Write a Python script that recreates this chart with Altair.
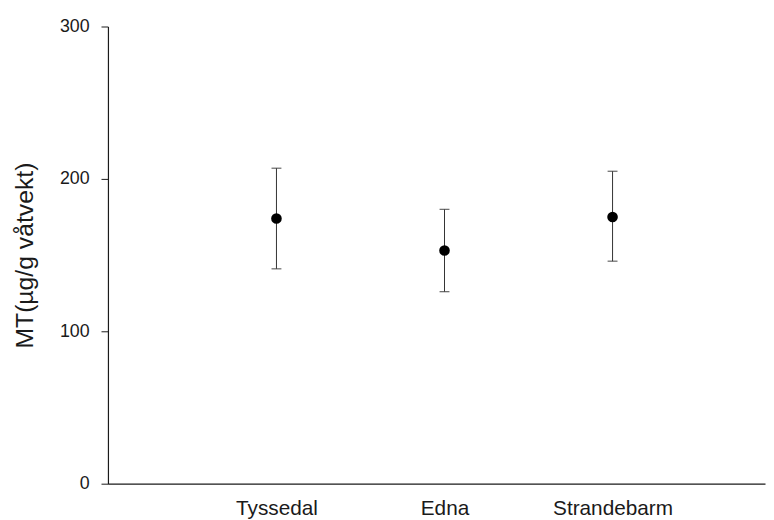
import altair as alt
import pandas as pd

sites = ["Tyssedal", "Edna", "Strandebarm"]
means = [174, 153, 175]
lower = [141, 126, 146]
upper = [207, 180, 205]

df = pd.DataFrame({"site": sites, "mean": means, "lo": lower, "hi": upper})

FONT = "Liberation Sans"
INK = "#1a1a1a"

xenc = alt.X(
    "site:N",
    sort=sites,
    scale=alt.Scale(type="point", padding=0.955, align=0.525),
    axis=alt.Axis(
        title=None,
        labelAngle=0,
        ticks=False,
        labelFont=FONT,
        labelFontSize=21,
        labelColor=INK,
        labelPadding=14,
        domainColor=INK,
        domainWidth=1.2,
        grid=False,
    ),
)

yscale = alt.Scale(domain=[0, 300], nice=False, zero=True)
yaxis = alt.Axis(
    title="MT(µg/g våtvekt)",
    values=[0, 100, 200, 300],
    tickSize=7,
    tickColor=INK,
    labelFont=FONT,
    labelFontSize=18,
    labelColor=INK,
    labelPadding=12,
    titleFont=FONT,
    titleFontSize=25,
    titleFontWeight="normal",
    titleColor=INK,
    titlePadding=22,
    domainColor=INK,
    domainWidth=1.2,
    grid=False,
)

base = alt.Chart(df)

rules = base.mark_rule(color="#333333", strokeWidth=1).encode(
    x=xenc,
    y=alt.Y("lo:Q", scale=yscale, axis=yaxis),
    y2="hi:Q",
)

caps_hi = base.mark_tick(color="#333333", size=10, thickness=1.3).encode(
    x=xenc, y=alt.Y("hi:Q", scale=yscale)
)
caps_lo = base.mark_tick(color="#333333", size=10, thickness=1.3).encode(
    x=xenc, y=alt.Y("lo:Q", scale=yscale)
)

points = base.mark_circle(color="black", size=115, opacity=1).encode(
    x=xenc, y=alt.Y("mean:Q", scale=yscale)
)

chart = (
    alt.layer(rules, caps_hi, caps_lo, points)
    .properties(
        width=664,
        height=462,
        autosize=alt.AutoSizeParams(type="none"),
        padding={"left": 101, "top": 16, "right": 1, "bottom": 34},
        background="white",
    )
    .configure_view(stroke=None)
)

chart.save("out.html", embed_options={"renderer": "svg", "actions": False})
